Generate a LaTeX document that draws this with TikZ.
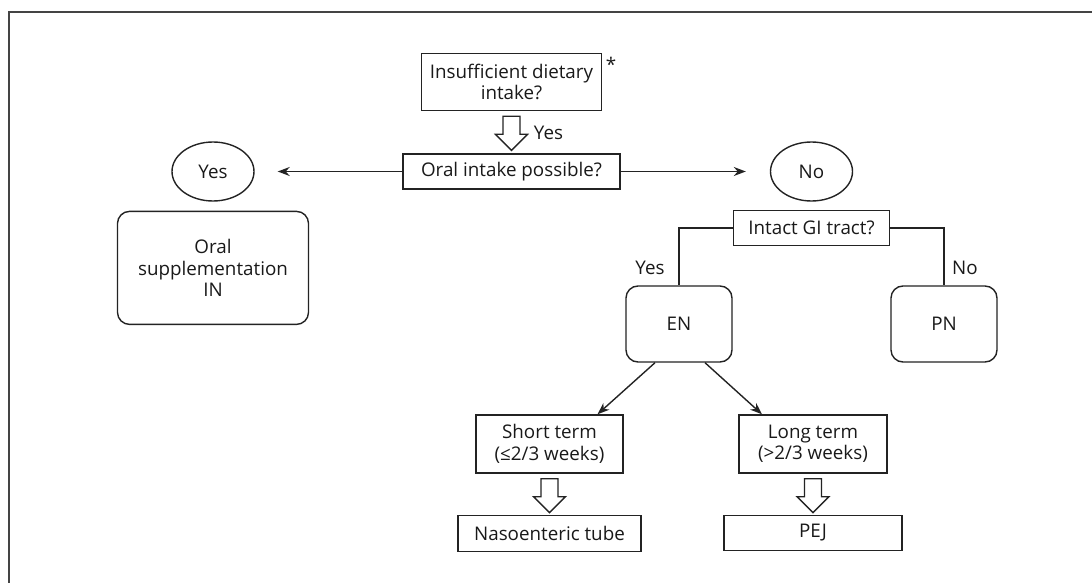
\documentclass[tikz,border=0pt]{standalone}
\usepackage{fontspec}
\setmainfont{Open Sans}
\usepackage{tikz}
\usetikzlibrary{positioning}
\usetikzlibrary{arrows.meta}
\usetikzlibrary{shapes,calc}
\definecolor{lineg}{RGB}{35,35,35}
\tikzset{box/.style={draw=lineg,rectangle,align=center,inner sep=0pt,line width=1.4pt},
  round box/.style={box,rounded corners=12pt},
  answer/.style={draw=lineg,ellipse,minimum width=82pt,minimum height=59pt,inner sep=0pt,line width=1.4pt},
  hollow/.style={draw=lineg,fill=white,line width=1.4pt,line join=miter},}
\newcommand{\hollowdown}[1]{\draw[hollow] ($#1+(-8.5,5)$) -- ++(17,0) -- ++(0,18) -- ++(7.5,0) -- ++(-16,16) -- ++(-16,-16) -- ++(7.5,0) -- cycle;}

\begin{document}
\begin{tikzpicture}[x=1pt, y=-1pt, >={Stealth[length=12pt,width=9pt]}, line width=1.4pt, draw=lineg,
    font=\fontsize{18.8}{21.5}\selectfont, text=black!90]
    \useasboundingbox (0,0) rectangle (1092,583);
    \draw[lineg!85, line width=1.6pt] (9,583) -- (9,12) -- (1092,12);

    \node[box, minimum width=217pt, minimum height=35pt] (oral) at (511.5,171.5) {Oral intake possible?};
    \node[box, minimum width=180pt, minimum height=57pt, above=42pt of oral] (diet) {Insufficient dietary\\intake?};
    \node[answer] (yes) at (213,171.5) {Yes};
    \node[answer] (no) at (811.5,171.5) {No};
    \node[round box, minimum width=191pt, minimum height=113pt, below=9pt of yes] (supp) {Oral\\supplementation\\IN};
    \node[box, minimum width=156pt, minimum height=35pt, below=8pt of no] (gi) {Intact GI tract?};
    \node[round box, minimum width=106pt, minimum height=76pt] (en) at (679,324) {EN};
    \node[round box, minimum width=106pt, minimum height=76pt] (pn) at (944,324) {PN};
    \node[box, minimum width=147pt, minimum height=58pt] (short) at (549.5,444) {Short term\\(≤2/3 weeks)};
    \node[box, minimum width=148pt, minimum height=58pt] (long) at (813,444) {Long term\\(>2/3 weeks)};
    \node[box, minimum width=183pt, minimum height=36pt, below=41pt of short] (naso) {Nasoenteric tube};
    \node[box, minimum width=178pt, minimum height=35pt, below=41pt of long] (pej) {PEJ};

    \node[anchor=south west, inner sep=0pt] (star) at ($(diet.north east)+(3,19)$) {*};
    \node (yeslbl) at ($(diet.south)+(37,22)$) {Yes};
    \node (yesgi) at (650,268) {Yes};
    \node (nogi) at (965,268) {No};

    \draw[->] (oral.west) -- ($(yes.east)+(23,0)$);
    \draw[->] (oral.east) -- ($(no.west)+(-24,0)$);
    \draw (gi.west) -| (en.north);
    \draw (gi.east) -| (pn.north);
    \draw[->] ($(en.south)+(-24,0)$) -- ($(short.north)+(48,0)$);
    \draw[->] ($(en.south)+(26,0)$) -- ($(long.north)+(-51,0)$);

    \hollowdown{(diet.south)}
    \hollowdown{(short.south)}
    \hollowdown{(long.south)}
\end{tikzpicture}
\end{document}
